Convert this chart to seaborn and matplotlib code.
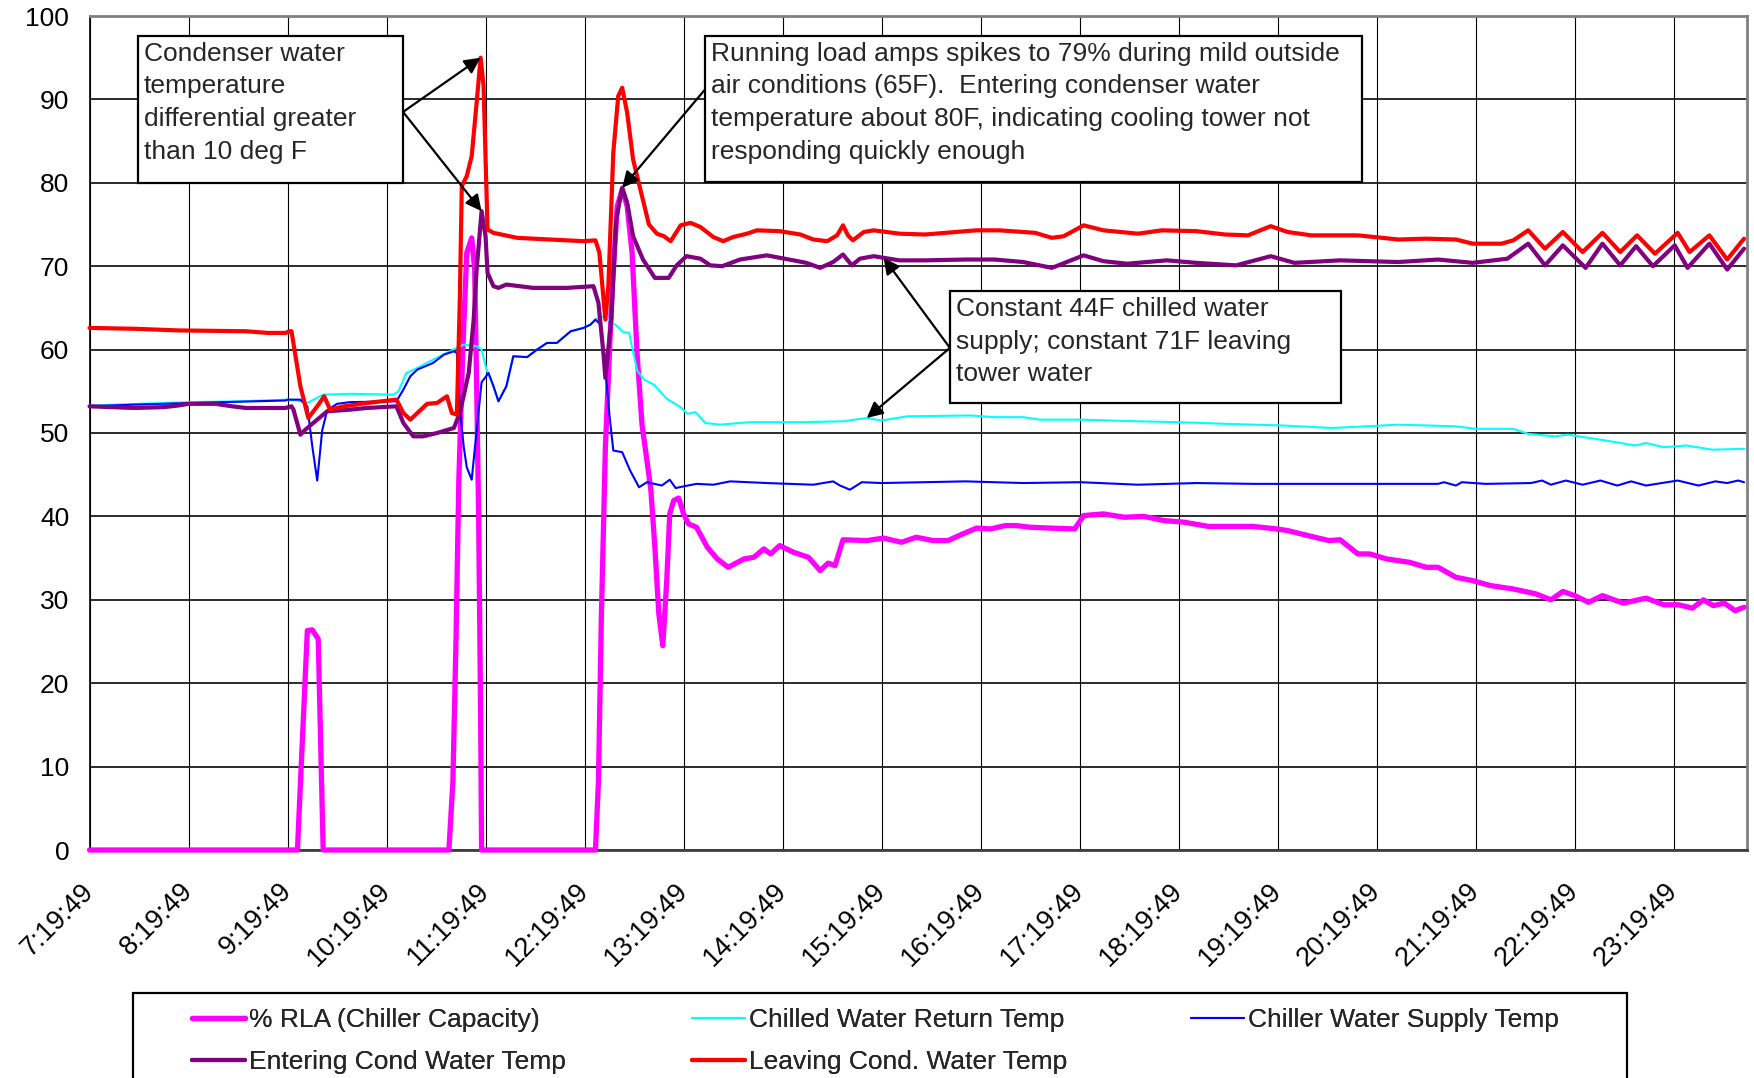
import numpy as np
import pandas as pd
import matplotlib
matplotlib.use("Agg")
import matplotlib.pyplot as plt
from matplotlib.patches import Rectangle
import seaborn as sns

# ---- data: hours elapsed since 7:19:49, value pairs per series ----
rla_t = [0, 2.10, 2.20, 2.25, 2.31, 2.36, 3.63, 3.67, 3.70, 3.73, 3.77, 3.81, 3.86, 3.89, 3.91, 3.93, 3.95, 3.96,
         5.11, 5.14, 5.17, 5.21, 5.28, 5.33, 5.38, 5.43, 5.48, 5.53, 5.58, 5.63, 5.67, 5.71, 5.75, 5.79, 5.83, 5.86,
         5.90, 5.95, 6.00, 6.05, 6.13, 6.24, 6.34, 6.45, 6.61, 6.71, 6.81, 6.88, 6.97, 7.11, 7.26, 7.38, 7.46, 7.53,
         7.61, 7.85, 8.02, 8.20, 8.35, 8.52, 8.67, 8.82, 8.96, 9.10, 9.25, 9.36, 9.50, 9.70, 9.95, 10.04, 10.24,
         10.45, 10.65, 10.85, 11.06, 11.30, 11.53, 11.75, 11.99, 12.10, 12.34, 12.52, 12.63, 12.81, 12.93, 13.10,
         13.33, 13.50, 13.62, 13.80, 13.97, 14.15, 14.38, 14.61, 14.76, 14.88, 15.00, 15.14, 15.28, 15.49, 15.72,
         15.90, 16.05, 16.19, 16.30, 16.40, 16.51, 16.62, 16.71]
rla_v = [0, 0, 26.3, 26.4, 25.3, 0, 0, 8.2, 24.3, 44.3, 60.0, 71.6, 73.4, 69.6, 55.6, 40.3, 16.3, 0,
         0, 8.2, 28.2, 48.3, 67.6, 77.2, 79.2, 77.2, 71.6, 59.6, 51.0, 46.7, 43.1, 36.3, 28.3, 24.5, 32.3, 40.3,
         41.9, 42.2, 40.3, 39.1, 38.7, 36.3, 34.9, 33.9, 34.9, 35.1, 36.1, 35.5, 36.5, 35.7, 35.1, 33.5, 34.4, 34.1,
         37.2, 37.1, 37.4, 36.9, 37.5, 37.1, 37.1, 37.9, 38.6, 38.5, 38.9, 38.9, 38.7, 38.6, 38.5, 40.1, 40.3,
         39.9, 40.0, 39.5, 39.3, 38.8, 38.8, 38.8, 38.5, 38.3, 37.6, 37.1, 37.2, 35.5, 35.5, 34.9,
         34.5, 33.9, 33.9, 32.7, 32.3, 31.7, 31.3, 30.7, 30.0, 31.0, 30.5, 29.7, 30.5, 29.6, 30.2,
         29.4, 29.4, 29.0, 30.0, 29.3, 29.6, 28.7, 29.1]

chw_return_t = [0, 0.5, 1.0, 1.5, 2.0, 2.10, 2.20, 2.36, 2.63, 3.07, 3.12, 3.20, 3.31, 3.47, 3.64, 3.78, 3.91, 3.96,
                4.01, 4.03, 4.08, 4.13, 4.21, 4.28, 4.42, 4.52, 4.62, 4.72, 4.86, 4.99, 5.06, 5.11, 5.19, 5.24,
                5.33, 5.39, 5.45, 5.53, 5.60, 5.70, 5.83, 5.97, 6.04, 6.12, 6.22, 6.37, 6.67, 7.18, 7.61, 7.85,
                8.00, 8.26, 8.90, 9.14, 9.43, 9.60, 10.01, 10.59, 11.00, 11.47, 12.05, 12.55, 12.90, 13.22, 13.80,
                14.00, 14.38, 14.53, 14.80, 14.93, 15.26, 15.61, 15.72, 15.90, 16.13, 16.39, 16.71]
chw_return_v = [53.3, 53.5, 53.7, 53.8, 54.0, 53.9, 53.6, 54.6, 54.7, 54.6, 55.0, 57.2, 57.8, 58.8, 59.8, 60.6, 60.4, 60.0,
                57.6, 57.0, 55.6, 53.8, 55.6, 59.2, 59.1, 60.0, 60.8, 60.8, 62.2, 62.6, 63.0, 63.6, 64.0, 63.6,
                62.8, 62.1, 62.0, 57.5, 56.4, 55.8, 54.1, 53.1, 52.3, 52.5, 51.2, 51.0, 51.3, 51.3, 51.4, 51.8,
                51.5, 52.0, 52.1, 51.9, 51.9, 51.6, 51.6, 51.4, 51.3, 51.1, 50.9, 50.6, 50.8, 51.0, 50.8,
                50.5, 50.5, 49.9, 49.6, 49.8, 49.2, 48.5, 48.8, 48.3, 48.5, 48.0, 48.1]

chw_supply_t = [0, 0.45, 1.36, 1.98, 2.0, 2.13, 2.20, 2.25, 2.30, 2.35, 2.40, 2.50, 2.63, 3.10, 3.17, 3.24, 3.31,
                3.47, 3.58, 3.68, 3.71, 3.74, 3.78, 3.81, 3.86, 3.91, 3.96, 3.98, 4.03, 4.08, 4.13, 4.21, 4.28,
                4.42, 4.52, 4.62, 4.72, 4.86, 4.99, 5.06, 5.11, 5.16, 5.21, 5.25, 5.29, 5.38, 5.46, 5.55, 5.63,
                5.78, 5.86, 5.92, 6.00, 6.13, 6.30, 6.47, 6.84, 7.31, 7.51, 7.58, 7.68, 7.80, 8.00, 8.85, 9.43,
                10.01, 10.59, 11.18, 11.76, 12.34, 13.62, 13.68, 13.80, 13.86, 14.10, 14.56, 14.67, 14.76, 14.91,
                15.08, 15.26, 15.43, 15.57, 15.72, 16.04, 16.25, 16.42, 16.54, 16.65, 16.71]
chw_supply_v = [53.2, 53.4, 53.7, 53.9, 54.0, 54.0, 53.2, 48.4, 44.3, 50.3, 52.7, 53.5, 53.7, 53.8, 55.2, 56.8, 57.6,
                58.4, 59.4, 59.8, 59.6, 53.0, 48.3, 45.9, 44.4, 50.3, 56.1, 56.4, 57.2, 55.6, 53.8, 55.6, 59.2,
                59.1, 60.0, 60.8, 60.8, 62.2, 62.6, 63.0, 63.6, 63.0, 57.6, 52.3, 47.9, 47.7, 45.5, 43.5, 44.1,
                43.7, 44.4, 43.4, 43.6, 43.9, 43.8, 44.2, 44.0, 43.8, 44.2, 43.7, 43.2, 44.1, 44.0, 44.2, 44.0,
                44.1, 43.8, 44.0, 43.9, 43.9, 43.9, 44.1, 43.7, 44.1, 43.9, 44.0, 44.3, 43.8, 44.3,
                43.8, 44.3, 43.7, 44.2, 43.7, 44.3, 43.7, 44.2, 44.0, 44.3, 44.1]

entering_t = [0, 0.45, 0.75, 0.90, 1.00, 1.27, 1.44, 1.58, 1.98, 2.04, 2.06, 2.13, 2.18, 2.30, 2.40, 2.63, 2.80,
              3.10, 3.17, 3.27, 3.37, 3.51, 3.68, 3.74, 3.83, 3.88, 3.91, 3.96, 4.00, 4.02, 4.08, 4.13, 4.21,
              4.48, 4.82, 5.09, 5.14, 5.19, 5.21, 5.27, 5.32, 5.38, 5.43, 5.49, 5.59, 5.71, 5.80, 5.85, 5.93,
              6.03, 6.17, 6.27, 6.39, 6.57, 6.84, 7.11, 7.24, 7.38, 7.51, 7.61, 7.70, 7.78, 7.92, 8.18, 8.44,
              8.85, 9.14, 9.43, 9.72, 10.04, 10.24, 10.48, 10.88, 11.18, 11.58, 11.93, 12.17, 12.63, 12.92,
              13.22, 13.62, 13.97, 14.32, 14.53, 14.70, 14.88, 15.11, 15.28, 15.46, 15.62, 15.79, 16.01, 16.14,
              16.36, 16.54, 16.71]
entering_v = [53.2, 53.0, 53.1, 53.3, 53.5, 53.5, 53.2, 53.0, 53.0, 53.2, 52.8, 49.8, 50.4, 51.6, 52.6, 52.8, 53.0,
              53.2, 51.2, 49.6, 49.6, 50.0, 50.6, 52.4, 57.2, 63.6, 69.6, 76.6, 73.6, 69.2, 67.6, 67.4, 67.8,
              67.4, 67.4, 67.6, 65.6, 59.6, 56.6, 63.6, 75.6, 79.4, 77.6, 73.6, 70.8, 68.6, 68.6, 68.6, 70.1,
              71.2, 70.9, 70.1, 70.0, 70.8, 71.3, 70.7, 70.4, 69.8, 70.5, 71.4, 70.1, 70.9, 71.2, 70.7, 70.7,
              70.8, 70.8, 70.5, 69.8, 71.3, 70.6, 70.3, 70.7, 70.4, 70.1, 71.2, 70.4, 70.7, 70.6,
              70.5, 70.8, 70.4, 70.9, 72.7, 70.1, 72.5, 69.8, 72.7, 70.1, 72.4, 70.0, 72.5, 69.8,
              72.7, 69.6, 72.1]

leaving_t = [0, 0.45, 0.90, 1.58, 1.80, 1.98, 2.02, 2.04, 2.13, 2.21, 2.30, 2.37, 2.43, 2.57, 2.80, 3.10, 3.17,
             3.24, 3.41, 3.51, 3.61, 3.66, 3.71, 3.74, 3.76, 3.81, 3.86, 3.91, 3.95, 3.98, 4.02, 4.08, 4.32,
             4.65, 4.99, 5.11, 5.15, 5.21, 5.24, 5.29, 5.34, 5.38, 5.43, 5.49, 5.58, 5.65, 5.73, 5.80, 5.87,
             5.97, 6.07, 6.17, 6.30, 6.40, 6.50, 6.64, 6.74, 6.97, 7.18, 7.31, 7.45, 7.55, 7.61, 7.66, 7.71,
             7.82, 7.92, 8.18, 8.44, 8.85, 8.96, 9.19, 9.43, 9.55, 9.72, 9.84, 10.04, 10.24, 10.59, 10.83,
             11.18, 11.47, 11.70, 11.93, 12.10, 12.34, 12.81, 13.22, 13.50, 13.80, 13.97, 14.26, 14.38, 14.53,
             14.70, 14.88, 15.08, 15.28, 15.46, 15.63, 15.81, 16.04, 16.16, 16.36, 16.54, 16.71]
leaving_v = [62.6, 62.5, 62.3, 62.2, 62.0, 62.0, 62.2, 62.2, 55.6, 51.8, 53.2, 54.4, 52.8, 53.2, 53.6, 54.0, 52.4,
             51.6, 53.5, 53.6, 54.4, 52.4, 52.2, 66.0, 79.6, 80.8, 83.2, 89.6, 95.0, 91.6, 74.4, 74.0, 73.4,
             73.2, 73.0, 73.1, 71.6, 63.6, 67.6, 83.6, 90.4, 91.4, 88.4, 82.8, 78.4, 75.0, 73.9, 73.6, 73.0,
             74.9, 75.2, 74.7, 73.5, 73.0, 73.5, 73.9, 74.3, 74.2, 73.8, 73.2, 73.0, 73.7, 74.9, 73.7, 73.1,
             74.1, 74.3, 73.9, 73.8, 74.2, 74.3, 74.3, 74.1, 74.0, 73.4, 73.6, 74.9, 74.3, 73.9, 74.3,
             74.2, 73.8, 73.7, 74.8, 74.1, 73.7, 73.7, 73.2, 73.3, 73.2, 72.7, 72.7, 73.1, 74.3,
             72.1, 74.1, 71.7, 74.0, 71.7, 73.7, 71.5, 74.0, 71.7, 73.7, 70.8, 73.3]

tick_labels = [f"{h}:19:49" for h in range(7, 24)]

series = [
    ("% RLA (Chiller Capacity)", rla_t, rla_v, "#FF00FF", 3.8),
    ("Chilled Water Return Temp", chw_return_t, chw_return_v, "#00FFFF", 1.5),
    ("Chiller Water Supply Temp", chw_supply_t, chw_supply_v, "#0000FF", 1.5),
    ("Entering Cond Water Temp", entering_t, entering_v, "#800080", 3.0),
    ("Leaving Cond. Water Temp", leaving_t, leaving_v, "#FF0000", 3.0),
]

# ---- figure ----
sns.set_style("white")
plt.rcParams["font.family"] = ["Liberation Sans", "DejaVu Sans"]

W, H = 1754, 1078
fig = plt.figure(figsize=(W / 100, H / 100), dpi=100)
ax = fig.add_axes([89.5 / W, (H - 850) / H, (1747 - 89.5) / W, (850 - 16) / H])

handles = {}
for name, t, v, color, lw in series:
    df = pd.DataFrame({"t": t, "v": v})
    sns.lineplot(data=df, x="t", y="v", ax=ax, color=color, linewidth=lw, label=name,
                 sort=False, estimator=None, solid_joinstyle="round", solid_capstyle="round",
                 clip_on=False, zorder=3)
    handles[name] = ax.get_lines()[-1]
ax.get_legend().remove()

ax.set_xlim(0, 16.74)
ax.set_ylim(0, 100)
ax.set_xticks(range(len(tick_labels)))
ax.set_xticklabels(tick_labels, rotation=45, ha="right", va="center", rotation_mode="anchor")
ax.set_yticks(range(0, 101, 10))
ax.set_xlabel("")
ax.set_ylabel("")
ax.tick_params(axis="y", direction="out", length=5, width=1, pad=9.5, labelsize=19, colors="black")
ax.tick_params(axis="x", direction="out", length=5, width=1, pad=22, labelsize=19.5, colors="black")

ax.grid(axis="y", color="#1a1a1a", linewidth=1.3, zorder=0)
ax.grid(axis="x", color="black", linewidth=0.8, zorder=0)
ax.set_axisbelow(True)
for side in ("top", "right"):
    ax.spines[side].set_color("#808080")
    ax.spines[side].set_linewidth(2)
ax.spines["left"].set_color("black")
ax.spines["left"].set_linewidth(1.2)
ax.spines["bottom"].set_color("#404040")
ax.spines["bottom"].set_linewidth(2)

# ---- callouts ----
note_kw = dict(fontsize=19, va="top", ha="left", linespacing=1.45, zorder=6)


def callout(x0, x1, y0, y1, text, tx, ty):
    ax.add_patch(Rectangle((x0, y0), x1 - x0, y1 - y0, facecolor="white", edgecolor="black",
                           linewidth=1.6, zorder=5, clip_on=False))
    ax.text(tx, ty, text, **note_kw)


def arrow(start, end):
    ax.annotate("", xy=end, xytext=start,
                arrowprops=dict(arrowstyle="-|>", color="black", lw=1.6, mutation_scale=24,
                                shrinkA=0, shrinkB=0), zorder=7)


callout(0.49, 3.17, 80.0, 97.6,
        "Condenser water\ntemperature\ndifferential greater\nthan 10 deg F", 0.55, 96.9)
callout(6.22, 12.85, 80.1, 97.6,
        "Running load amps spikes to 79% during mild outside\nair conditions (65F).  Entering condenser water\n"
        "temperature about 80F, indicating cooling tower not\nresponding quickly enough", 6.28, 96.9)
callout(8.69, 12.64, 53.6, 67.0,
        "Constant 44F chilled water\nsupply; constant 71F leaving\ntower water", 8.75, 66.3)

lt, lv = np.array(leaving_t), np.array(leaving_v)
et, ev = np.array(entering_t), np.array(entering_v)
red_peak = (lt[np.argmax(lv)], lv.max())
w1 = et < 4.5
purple_peak1 = (et[w1][np.argmax(ev[w1])], ev[w1].max())
w2 = (et > 5.0) & (et < 6.0)
purple_peak2 = (et[w2][np.argmax(ev[w2])], ev[w2].max())

arrow((3.167, 88.5), red_peak)
arrow((3.167, 88.5), purple_peak1)
arrow((6.21, 91.1), purple_peak2)
arrow((8.69, 60.2), (8.02, np.interp(8.02, et, ev)))
arrow((8.69, 60.2), (7.85, np.interp(7.85, chw_return_t, chw_return_v)))

# ---- legend (three columns, framed box running off the bottom edge) ----
fig.add_artist(Rectangle((133 / W, -0.2), (1627 - 133) / W, 0.2 + (H - 993) / H,
                         transform=fig.transFigure, facecolor="none", edgecolor="black", linewidth=1.6))
columns = [
    (192, ["% RLA (Chiller Capacity)", "Entering Cond Water Temp"]),
    (692, ["Chilled Water Return Temp", "Leaving Cond. Water Temp"]),
    (1191, ["Chiller Water Supply Temp"]),
]
for x_px, names in columns:
    leg = fig.legend([handles[n] for n in names], names, loc="upper left",
                     bbox_to_anchor=(x_px / W, (H - 1008) / H), frameon=False, fontsize=19,
                     handlelength=2.0, handletextpad=0.15, labelspacing=0.68, borderpad=0,
                     borderaxespad=0)
    fig.add_artist(leg)

fig.savefig("out.png", dpi=100)
